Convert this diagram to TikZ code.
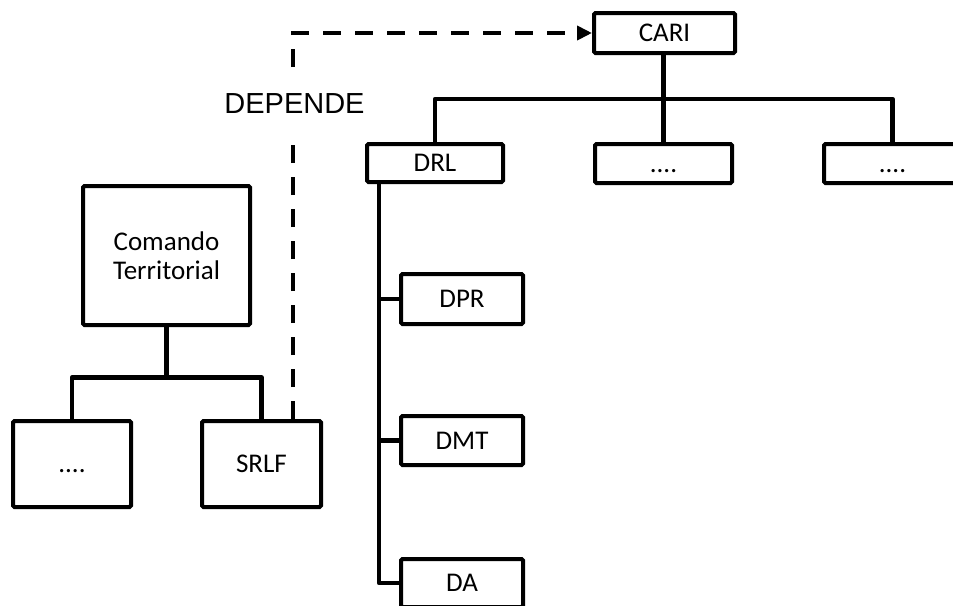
\documentclass[tikz,border=0pt]{standalone}
\usepackage{fontspec}
\setmainfont{Carlito}
\newfontfamily\arialfont{Liberation Sans}
\usetikzlibrary{arrows.meta}

\begin{document}
\begin{tikzpicture}[x=1pt,y=-1pt,
  box/.style={draw, line width=4pt, rounded corners=1.5pt, fill=white, inner sep=0pt,
    font=\fontsize{27}{29}\selectfont, text height=17pt, text depth=0pt},
  link/.style={line width=4.5pt, line join=round},
  dep/.style={line width=4.3pt, dash pattern=on 18pt off 14pt,
    -{Triangle[length=15pt,width=14pt]}}
]
\useasboundingbox (0,0) rectangle (953,605);
\clip (0,0) rectangle (953,605);

% upper hierarchy
\node[box, minimum width=141pt, minimum height=40pt] (cari) at (664.5,33) {CARI};
\node[box, minimum width=136pt, minimum height=38pt] (drl) at (435,163) {DRL};
\node[box, minimum width=137pt, minimum height=39pt] (dots2) at (663.5,163.5) {....};
\node[box, minimum width=137pt, minimum height=39pt] (dots3) at (892.5,163.5) {....};
\node[box, minimum width=122pt, minimum height=50pt] (dpr) at (462,299) {DPR};
\node[box, minimum width=122pt, minimum height=49pt] (dmt) at (462,440.5) {DMT};
\node[box, minimum width=122pt, minimum height=48pt] (da) at (462,583) {DA};

% territorial command
\node[box, minimum width=167pt, minimum height=139pt, align=center,
  text height={}, text depth={}] (cmd) at (166.5,255.5) {Comando\\Territorial};
\node[box, minimum width=118pt, minimum height=86pt] (ldots) at (72,464) {....};
\node[box, minimum width=119pt, minimum height=86pt] (srlf) at (261.5,464) {SRLF};

% CARI tree
\coordinate (busTop) at (0,99);
\draw[link] (dots2.north) -- (dots2.north |- cari.south);
\draw[link] (drl.north) -- (drl.north |- busTop) -| (dots3.north);

% DRL trunk
\coordinate (trunk) at (379,0);
\draw[link] (trunk |- drl.south) |- (da.west);
\draw[link] (trunk |- dpr.west) -- (dpr.west);
\draw[link] (trunk |- dmt.west) -- (dmt.west);

% command tree
\coordinate (busLow) at (0,377.5);
\draw[link] (cmd.south) -- (cmd.south |- busLow);
\draw[link] (ldots.north) -- (ldots.north |- busLow) -| (srlf.north);

% dependency
\coordinate (depx) at (293,0);
\draw[dep] (depx |- srlf.north) |- (cari.west);
\node[fill=white, inner xsep=0pt, inner ysep=22pt, text height=20.8pt, text depth=0pt,
  font=\arialfont\fontsize{29}{31}\selectfont] (deplbl) at (294.5,103) {DEPENDE};
\end{tikzpicture}
\end{document}
